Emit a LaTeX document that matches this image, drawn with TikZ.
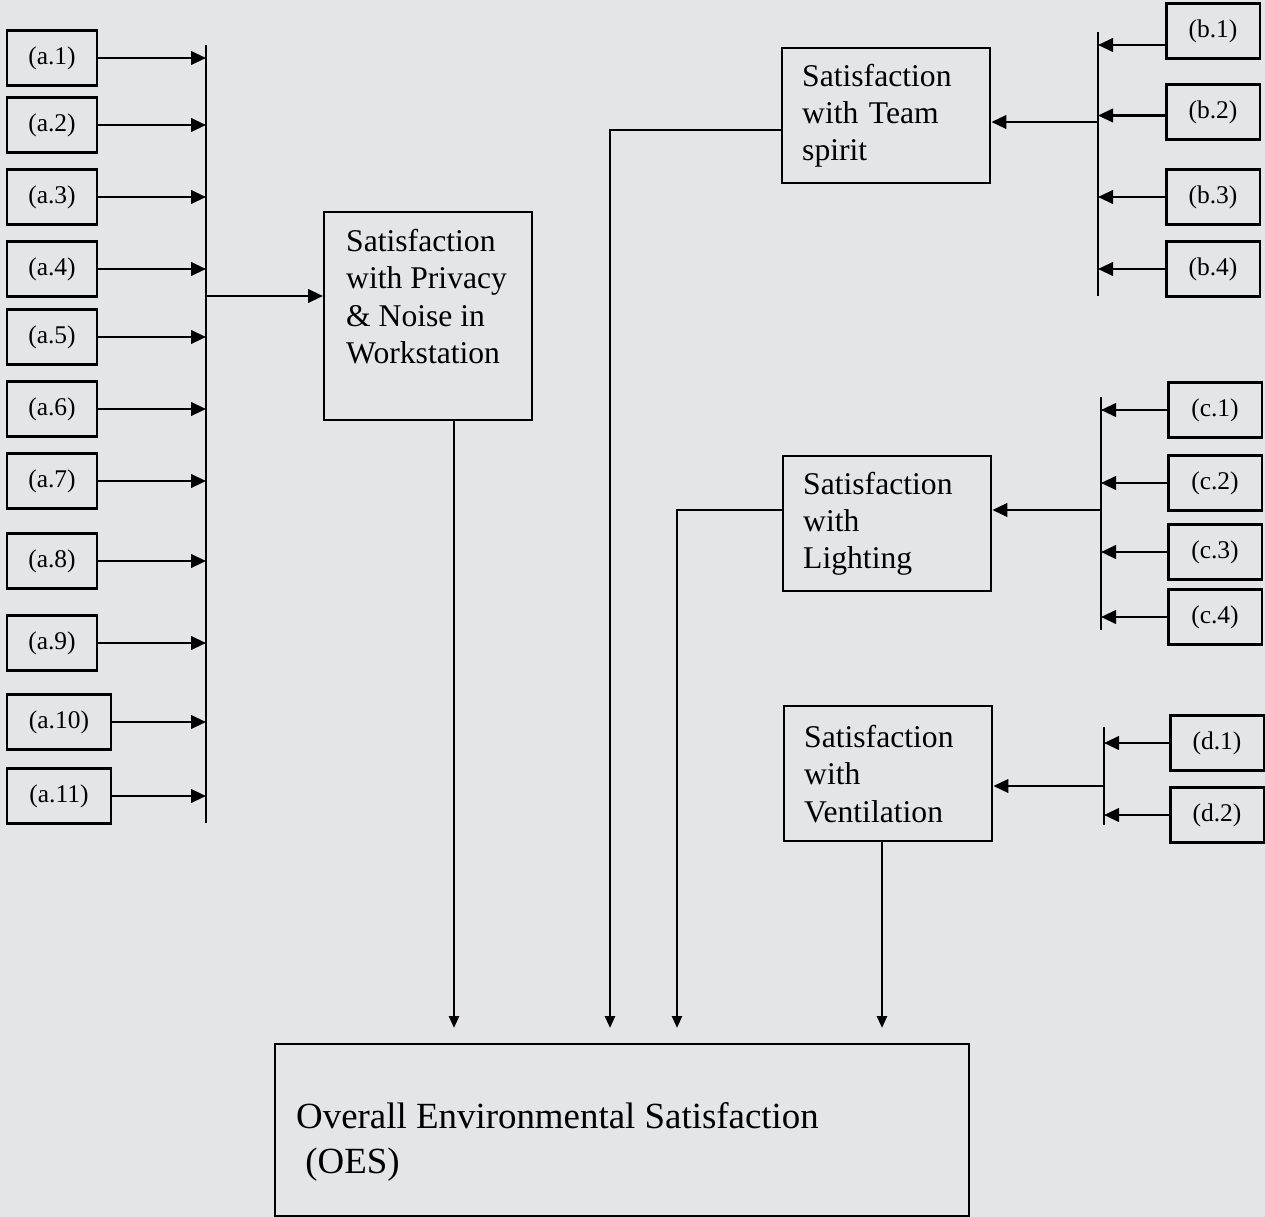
\documentclass[tikz,border=0pt]{standalone}
\usepackage{fontspec}
\setmainfont{Liberation Serif}
\usetikzlibrary{arrows.meta}
\definecolor{scangray}{RGB}{227,229,231}

\begin{document}
\begin{tikzpicture}[x=0.02cm, y=-0.02cm, line width=1.4pt,
    item/.style={rectangle,draw=black,line width=1.4pt,font=\fontsize{14.5}{16}\selectfont,minimum width=1.8cm,minimum height=1.1cm,inner sep=0pt},
    itemwide/.style={item,minimum width=2.08cm},
    itemright/.style={item,minimum width=1.87cm},
    factor/.style={rectangle,draw=black,line width=1.4pt,anchor=north west,align=left,font=\fontsize{18}{21.3}\selectfont,inner xsep=0.4cm,inner ysep=0pt,text width=3.36cm,minimum height=2.7cm},
    overall/.style={rectangle,draw=black,line width=1.4pt,anchor=north west,minimum width=13.88cm,minimum height=3.44cm},
    feed/.style={-{Triangle[length=0.3cm,width=0.27cm]}},
    sink/.style={-{Triangle[length=0.24cm,width=0.2cm]}}
  ]
    \fill[scangray] (0,0) rectangle (1265,1217);
    \useasboundingbox (0,0) rectangle (1265,1217);

    % left inputs
    \node[item] (a1) at (52,58) {(a.1)};
    \node[item] (a2) at (52,125) {(a.2)};
    \node[item] (a3) at (52,197) {(a.3)};
    \node[item] (a4) at (52,269) {(a.4)};
    \node[item] (a5) at (52,337) {(a.5)};
    \node[item] (a6) at (52,409) {(a.6)};
    \node[item] (a7) at (52,481) {(a.7)};
    \node[item] (a8) at (52,561) {(a.8)};
    \node[item] (a9) at (52,643) {(a.9)};
    \node[itemwide] (a10) at (59,722) {(a.10)};
    \node[itemwide] (a11) at (59,796) {(a.11)};

    % right inputs
    \node[itemright] (b1) at (1213,31) {(b.1)};
    \node[itemright] (b2) at (1213,112) {(b.2)};
    \node[itemright] (b3) at (1213,197) {(b.3)};
    \node[itemright] (b4) at (1213,269) {(b.4)};
    \node[itemright] (c1) at (1215,410) {(c.1)};
    \node[itemright] (c2) at (1215,483) {(c.2)};
    \node[itemright] (c3) at (1215,552) {(c.3)};
    \node[itemright] (c4) at (1215,617) {(c.4)};
    \node[itemright] (d1) at (1217,743) {(d.1)};
    \node[itemright] (d2) at (1217,815) {(d.2)};

    % factor boxes
    \node[factor,minimum height=4.16cm] (priv) at (323,211) {};
    \node[anchor=north west,align=left,inner sep=0pt,font=\fontsize{18}{21.3}\selectfont] (privtxt) at (345,228)
        {Satisfaction\\with Privacy\\\& Noise in\\Workstation};
    \node[factor] (team) at (781,47) {Satisfaction\\with Team\\spirit};
    \node[factor] (light) at (782,455) {Satisfaction\\with\\Lighting};
    \node[factor] (vent) at (783,705) {Satisfaction\\with\\Ventilation};
    \node[overall] (oes) at (274,1043) {};
    \node[anchor=north west,align=left,inner sep=0pt,font=\fontsize{21}{25.5}\selectfont] (oestxt) at (295,1101)
        {Overall Environmental Satisfaction\\\hspace*{0.25em}(OES)};

    % buses
    \coordinate (abustop) at (206,45);
    \coordinate (abusbot) at (206,823);
    \coordinate (bbustop) at (1098,32);
    \coordinate (bbusbot) at (1098,296);
    \coordinate (cbustop) at (1101,397);
    \coordinate (cbusbot) at (1101,630);
    \coordinate (dbustop) at (1104,727);
    \coordinate (dbusbot) at (1104,825);
    \draw (abustop) -- (abusbot);
    \draw (bbustop) -- (bbusbot);
    \draw (cbustop) -- (cbusbot);
    \draw (dbustop) -- (dbusbot);

    \draw[feed] (a1.east) -- (a1.east -| abustop);
    \draw[feed] (a2.east) -- (a2.east -| abustop);
    \draw[feed] (a3.east) -- (a3.east -| abustop);
    \draw[feed] (a4.east) -- (a4.east -| abustop);
    \draw[feed] (a5.east) -- (a5.east -| abustop);
    \draw[feed] (a6.east) -- (a6.east -| abustop);
    \draw[feed] (a7.east) -- (a7.east -| abustop);
    \draw[feed] (a8.east) -- (a8.east -| abustop);
    \draw[feed] (a9.east) -- (a9.east -| abustop);
    \draw[feed] (a10.east) -- (a10.east -| abustop);
    \draw[feed] (a11.east) -- (a11.east -| abustop);

    \draw[feed] ([yshift=-0.28cm]b1.west) -- ([yshift=-0.28cm]b1.west -| bbustop);
    \draw[feed] ([yshift=-0.07cm]b2.west) -- ([yshift=-0.07cm]b2.west -| bbustop);
    \draw[feed] (b3.west) -- (b3.west -| bbustop);
    \draw[feed] (b4.west) -- (b4.west -| bbustop);
    \draw[feed] (c1.west) -- (c1.west -| cbustop);
    \draw[feed] (c2.west) -- (c2.west -| cbustop);
    \draw[feed] (c3.west) -- (c3.west -| cbustop);
    \draw[feed] (c4.west) -- (c4.west -| cbustop);
    \draw[feed] (d1.west) -- (d1.west -| dbustop);
    \draw[feed] (d2.west) -- (d2.west -| dbustop);

    % bus outputs
    \coordinate (aout) at (207,296);
    \coordinate (bout) at (1098,122);
    \coordinate (cout) at (1101,510);
    \coordinate (dout) at (1104,786);
    \draw[feed] (aout) -- (aout -| priv.west);
    \draw[feed] (bout) -- (bout -| team.east);
    \draw[feed] (cout) -- (cout -| light.east);
    \draw[feed] (dout) -- (dout -| vent.east);

    % into OES
    \coordinate (pdrop) at (454,1028);
    \coordinate (tturn) at (610,130);
    \coordinate (lturn) at (677,510);
    \coordinate (vdrop) at (882,1028);
    \draw[sink] (pdrop |- priv.south) -- (pdrop);
    \draw[sink] (team.west |- tturn) -- (tturn) -- (tturn |- pdrop);
    \draw[sink] (light.west |- lturn) -- (lturn) -- (lturn |- pdrop);
    \draw[sink] (vdrop |- vent.south) -- (vdrop);
\end{tikzpicture}
\end{document}
